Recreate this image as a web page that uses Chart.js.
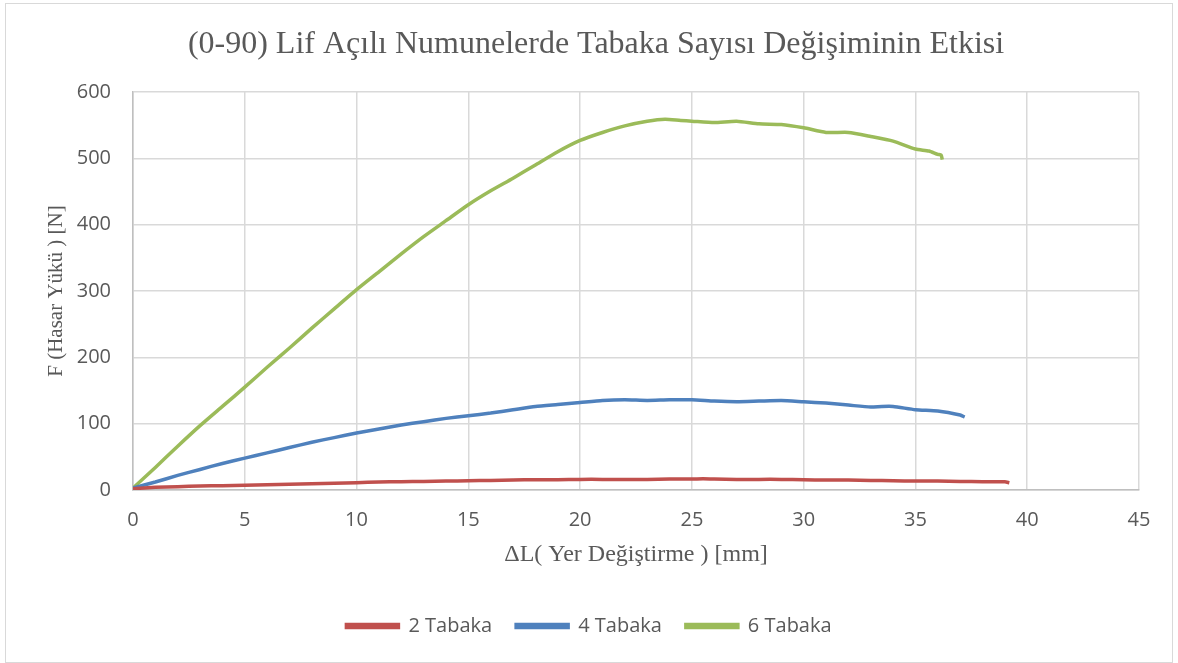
<!DOCTYPE html>
<html>
<head>
<meta charset="utf-8">
<script src="https://cdn.jsdelivr.net/npm/chart.js@4.4.1/dist/chart.umd.min.js"></script>
<style>
  html, body { margin: 0; padding: 0; background: #fff; }
  #wrap { position: relative; width: 1178px; height: 663px; }
  #frame { position: absolute; left: 5px; top: 3px; width: 1168px; height: 660px; border: 1px solid #d9d9d9; box-sizing: border-box; pointer-events: none; }
  canvas { display: block; }
</style>
</head>
<body>
<div id="wrap">
  <canvas id="c" width="1178" height="663"></canvas>
  <div id="frame"></div>
</div>
<script>
// Displacement (mm) / load (N) readings for each laminate
const tabaka2X = [0, 1, 2, 3, 4, 5, 6, 7, 8, 9, 10, 11, 12, 13, 14, 15, 16, 17, 18, 19, 20, 21, 22, 23, 24, 25, 25.5, 26, 27, 28, 29, 30, 31, 32, 33, 34, 35, 36, 37, 38, 39, 39.2];
const tabaka2Y = [2, 4, 5, 6, 6.5, 7, 8, 8.5, 9.5, 10, 11, 12, 12.5, 13, 13.5, 14, 14.5, 15, 15.5, 15.5, 16, 16, 16, 16, 16.5, 16.5, 17, 16.5, 16, 16, 16, 15.5, 15, 15, 14.5, 14, 13.5, 13.5, 13, 12.5, 12.5, 11];

const tabaka4X = [0, 1, 2, 3, 4, 5, 6, 7, 8, 9, 10, 11, 12, 13, 14, 15, 16, 17, 18, 19, 20, 21, 22, 23, 24, 25, 26, 27, 28, 29, 30, 31, 32, 33, 33.5, 34, 35, 36, 37, 37.2];
const tabaka4Y = [3, 12, 22, 31, 40, 48, 56, 64, 72, 79, 86, 92, 98, 103, 108, 112, 116, 121, 126, 129, 132, 135, 136, 135, 136, 136, 134, 133, 134, 135, 133, 131, 128, 125, 126, 126, 121, 119, 113, 110];

const tabaka6X = [0, 1, 2, 3, 4, 5, 6, 7, 8, 9, 10, 11, 12, 13, 14, 15, 16, 17, 18, 19, 20, 21, 22, 23, 23.8, 24.5, 25, 26, 27, 28, 29, 30, 31, 32, 33, 34, 35, 35.6, 36, 36.15, 36.2];
const tabaka6Y = [3, 34, 66, 97, 126, 155, 185, 214, 244, 273, 302, 329, 356, 382, 406, 430, 451, 470, 490, 510, 527, 539, 549, 556, 559, 557, 556, 554, 556, 552, 551, 546, 539, 539, 533, 526, 514, 511, 506, 505, 498];

const seriesNames = ['2 Tabaka', '4 Tabaka', '6 Tabaka'];
const xTicks = [0, 5, 10, 15, 20, 25, 30, 35, 40, 45];
const yTicks = [0, 100, 200, 300, 400, 500, 600];

const chartTitle = '(0-90) Lif Açılı Numunelerde Tabaka Sayısı Değişiminin Etkisi';
const xTitle = 'ΔL( Yer Değiştirme ) [mm]';
const yTitle = 'F (Hasar Yükü ) [N]';

const colors = ['#C0504D', '#4F81BD', '#9BBB59'];
const textColor = '#595959';
const gridColor = '#d9d9d9';
const sansFont = "'Open Sans', 'Noto Sans', sans-serif";
const serifFont = "'Liberation Serif', 'DejaVu Serif', serif";

function pairs(xs, ys) {
  return xs.map((x, i) => ({ x: x, y: ys[i] }));
}

const datasets = [pairs(tabaka2X, tabaka2Y), pairs(tabaka4X, tabaka4Y), pairs(tabaka6X, tabaka6Y)].map((d, i) => ({
  label: seriesNames[i],
  data: d,
  borderColor: colors[i],
  backgroundColor: colors[i],
  borderWidth: 3.5,
  pointRadius: 0,
  tension: 0.2,
  fill: false
}));

// Heading drawn slightly right of centre, as in the worksheet layout
const headingPlugin = {
  id: 'heading',
  afterDraw(chart) {
    const ctx = chart.ctx;
    ctx.save();
    ctx.font = '32px ' + serifFont;
    ctx.fillStyle = textColor;
    ctx.textAlign = 'center';
    ctx.textBaseline = 'alphabetic';
    ctx.fillText(chartTitle, 596, 53);
    ctx.restore();
  }
};

new Chart(document.getElementById('c'), {
  type: 'line',
  data: { datasets: datasets },
  plugins: [headingPlugin],
  options: {
    responsive: false,
    animation: false,
    layout: { padding: { left: 0, right: 0, top: 92, bottom: 17 } },
    plugins: {
      title: { display: false },
      legend: {
        position: 'bottom',
        labels: {
          color: textColor,
          font: { family: sansFont, size: 20 },
          boxWidth: 52,
          boxHeight: 3,
          padding: 24
        }
      },
      tooltip: { enabled: false }
    },
    scales: {
      x: {
        type: 'linear',
        min: 0,
        max: 45,
        afterBuildTicks: (axis) => { axis.ticks = xTicks.map(v => ({ value: v })); },
        afterFit: (axis) => { axis.height = 102; },
        grid: { color: gridColor, lineWidth: 1.5, drawTicks: false },
        border: { color: '#bfbfbf', width: 1.5 },
        ticks: { color: textColor, font: { family: sansFont, size: 20 }, padding: 18, maxRotation: 0 },
        title: { display: true, text: xTitle, color: textColor, font: { family: serifFont, size: 24 }, padding: { top: 23, bottom: 23 } }
      },
      y: {
        type: 'linear',
        min: 0,
        max: 600,
        afterBuildTicks: (axis) => { axis.ticks = yTicks.map(v => ({ value: v })); },
        afterFit: (axis) => { axis.width = 133; },
        grid: { color: gridColor, lineWidth: 1.5, drawTicks: false },
        border: { color: '#bfbfbf', width: 1.5 },
        ticks: { color: textColor, font: { family: sansFont, size: 20 }, padding: 22 },
        title: { display: true, text: yTitle, color: textColor, font: { family: serifFont, size: 21 }, padding: { top: 44, bottom: 4 } }
      },
      // empty right-hand gutter keeps the plot area off the right edge
      gutter: {
        type: 'linear',
        position: 'right',
        display: true,
        afterFit: (axis) => { axis.width = 39; },
        grid: { display: false, drawTicks: false },
        border: { display: false },
        ticks: { display: false }
      }
    }
  }
});
</script>
</body>
</html>
